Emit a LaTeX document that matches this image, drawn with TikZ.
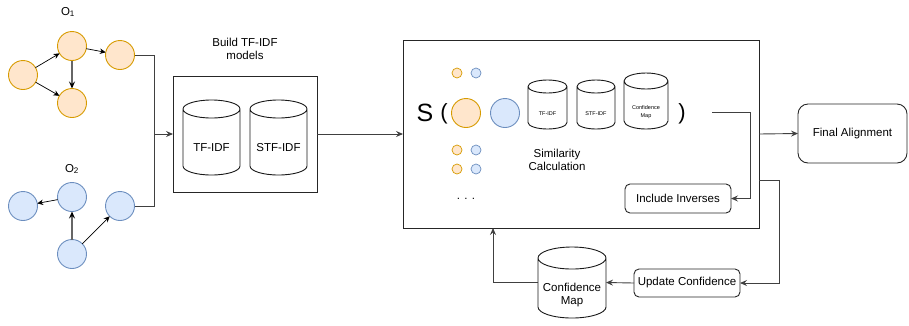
\documentclass[tikz,border=0pt]{standalone}
\usepackage{fontspec}
\setmainfont{Liberation Sans}
\usetikzlibrary{arrows.meta,calc}
\definecolor{orgfill}{HTML}{FFE6CC}
\definecolor{orgline}{HTML}{D79B00}
\definecolor{bluefill}{HTML}{DAE8FC}
\definecolor{blueline}{HTML}{6C8EBF}
\tikzset{
  orgc/.style={circle,draw=orgline,fill=orgfill,line width=0.9pt,minimum size=29pt,inner sep=0pt,outer sep=0pt},
  bluec/.style={circle,draw=blueline,fill=bluefill,line width=0.9pt,minimum size=29pt,inner sep=0pt,outer sep=0pt},
  orgs/.style={orgc,minimum size=10pt,line width=0.7pt},
  blues/.style={bluec,minimum size=10pt,line width=0.7pt},
  box/.style={draw=black!85,line width=0.9pt,fill=white,inner sep=0pt,outer sep=0pt},
  rbox/.style={box,rounded corners=5pt},
  cylbox/.style={inner sep=0pt,outer sep=0pt},
  cylline/.style={draw=black!90,line width=0.9pt},
  txt/.style={font=\fontsize{11.5}{13}\selectfont,align=center,inner sep=0pt},
  tiny/.style={font=\fontsize{5.5}{7.5}\selectfont,align=center,inner sep=0pt},
  conn/.style={draw=black!75,line width=0.9pt},
  arr/.style={conn,-{Stealth[length=7pt,width=6pt,inset=2.5pt]}},
  thinarr/.style={draw=black,line width=0.7pt,-{Stealth[length=6pt,width=5.5pt,inset=2pt]}},
  grayarr/.style={draw=black!60,line width=1.3pt,-{Stealth[length=7pt,width=6pt,inset=2.5pt,color=black,fill=black]}},
}
\newcommand\drawcyl[3]{\draw[cylline] ([yshift=-#3]#1.north west) -- ([yshift=#3]#1.south west) arc[start angle=180,end angle=360,x radius=#2,y radius=#3] -- ([yshift=-#3]#1.north east) arc[start angle=0,end angle=180,x radius=#2,y radius=#3] -- cycle ([yshift=-#3]#1.north west) arc[start angle=180,end angle=360,x radius=#2,y radius=#3];}
\begin{document}
\begin{tikzpicture}[x=1pt,y=1pt]
\useasboundingbox (0,0) rectangle (909,-325);
% O1 graph
\node[txt] (lo1) at (68,-12) {O\textsubscript{1}};
\node[orgc] (o1a) at (23,-75) {};
\node[orgc] (o1b) at (72,-46) {};
\node[orgc] (o1c) at (72,-103) {};
\node[orgc] (o1d) at (120,-55) {};
\draw[thinarr] (o1a) -- (o1b);
\draw[thinarr] (o1a) -- (o1c);
\draw[grayarr] (o1b) -- (o1c);
\draw[thinarr] (o1b) -- (o1d);
% O2 graph
\node[txt] (lo2) at (72,-169) {O\textsubscript{2}};
\node[bluec] (o2a) at (23,-206) {};
\node[bluec] (o2b) at (72,-197) {};
\node[bluec] (o2c) at (72,-254) {};
\node[bluec] (o2d) at (120,-206) {};
\draw[thinarr] (o2b) -- (o2a);
\draw[grayarr] (o2c) -- (o2b);
\draw[thinarr] (o2c) -- (o2d);
% Build box
\node[txt] (buildlbl) at (245,-48.5) {Build TF-IDF\\models};
\node[box,minimum width=144pt,minimum height=116pt] (build) at (245,-134) {};
\node[cylbox,minimum width=57pt,minimum height=75pt] (tfidf) at (211.5,-137.5) {};
\drawcyl{tfidf}{28.5pt}{9pt}
\node[txt] (tfidft) at (211.5,-148) {TF-IDF};
\node[cylbox,minimum width=57pt,minimum height=75pt] (stfidf) at (278.5,-137.5) {};
\drawcyl{stfidf}{28.5pt}{9pt}
\node[txt] (stfidft) at (278.5,-148) {STF-IDF};
% junction
\coordinate (j) at (154,-134);
\draw[conn] (o1d.east) -| (j);
\draw[conn] (o2d.east) -| (j);
\draw[arr] (j) -- (build.west);
% Similarity box
\node[box,minimum width=356pt,minimum height=188pt] (sim) at (581,-134) {};
\draw[arr] (build.east) -- (sim.west);
\node[orgs] (s1o) at (457,-73) {};
\node[blues] (s1b) at (476,-73) {};
\node[orgs] (s2o) at (457,-150) {};
\node[blues] (s2b) at (476,-150) {};
\node[orgs] (s3o) at (457,-169) {};
\node[blues] (s3b) at (476,-169) {};
\node[inner sep=0pt,font=\fontsize{25}{27}\selectfont] (S) at (425,-113) {S};
\node[inner sep=0pt,font=\fontsize{22}{26}\selectfont] (lp) at (444,-114) {(};
\node[orgc] (bigo) at (466,-113) {};
\node[bluec] (bigb) at (505,-113) {};
\node[cylbox,minimum width=39pt,minimum height=49pt] (c1) at (547.5,-104.5) {};
\drawcyl{c1}{19.5pt}{6.5pt}
\node[tiny] (c1t) at (547.5,-114) {TF-IDF};
\node[cylbox,minimum width=38pt,minimum height=49pt] (c2) at (596,-104.5) {};
\drawcyl{c2}{19pt}{6.5pt}
\node[tiny] (c2t) at (596,-114) {STF-IDF};
\node[cylbox,minimum width=44pt,minimum height=56pt] (c3) at (646,-101) {};
\drawcyl{c3}{22pt}{8pt}
\node[tiny] (c3t) at (646,-112) {Confidence\\Map};
\node[inner sep=0pt,font=\fontsize{22}{26}\selectfont] (rp) at (682,-114) {)};
\node[txt] (simlbl) at (557,-160) {Similarity\\Calculation};
\node[txt] (dots) at (466,-199) {. . .};
% Include inverses
\node[rbox,txt,minimum width=106pt,minimum height=29pt] (inv) at (678,-198.5) {Include Inverses};
\coordinate (sout) at (712,-112);
\draw[arr] (sout) -- (750,-112) |- (inv.east);
% Final alignment
\node[box,rounded corners=10pt,txt,minimum width=109pt,minimum height=59pt] (final) at (852.5,-133.5) {Final Alignment};
\draw[arr] (sim.east) -- (final.west);
% Update confidence loop
\node[rbox,txt,minimum width=106pt,minimum height=28pt] (upd) at (687,-283) {Update Confidence};
\coordinate (simr) at (759,-180);
\draw[arr] (simr) -- (779,-180) |- (upd.east);
\node[cylbox,minimum width=68pt,minimum height=71pt] (cm) at (572,-282.5) {};
\drawcyl{cm}{34pt}{11pt}
\node[txt] (cmt) at (572,-295.5) {Confidence\\Map};
\draw[arr] (upd.west) -- (cm.east);
\coordinate (up) at (493,-228);
\draw[arr] (cm.west) -| (up);
\end{tikzpicture}
\end{document}
